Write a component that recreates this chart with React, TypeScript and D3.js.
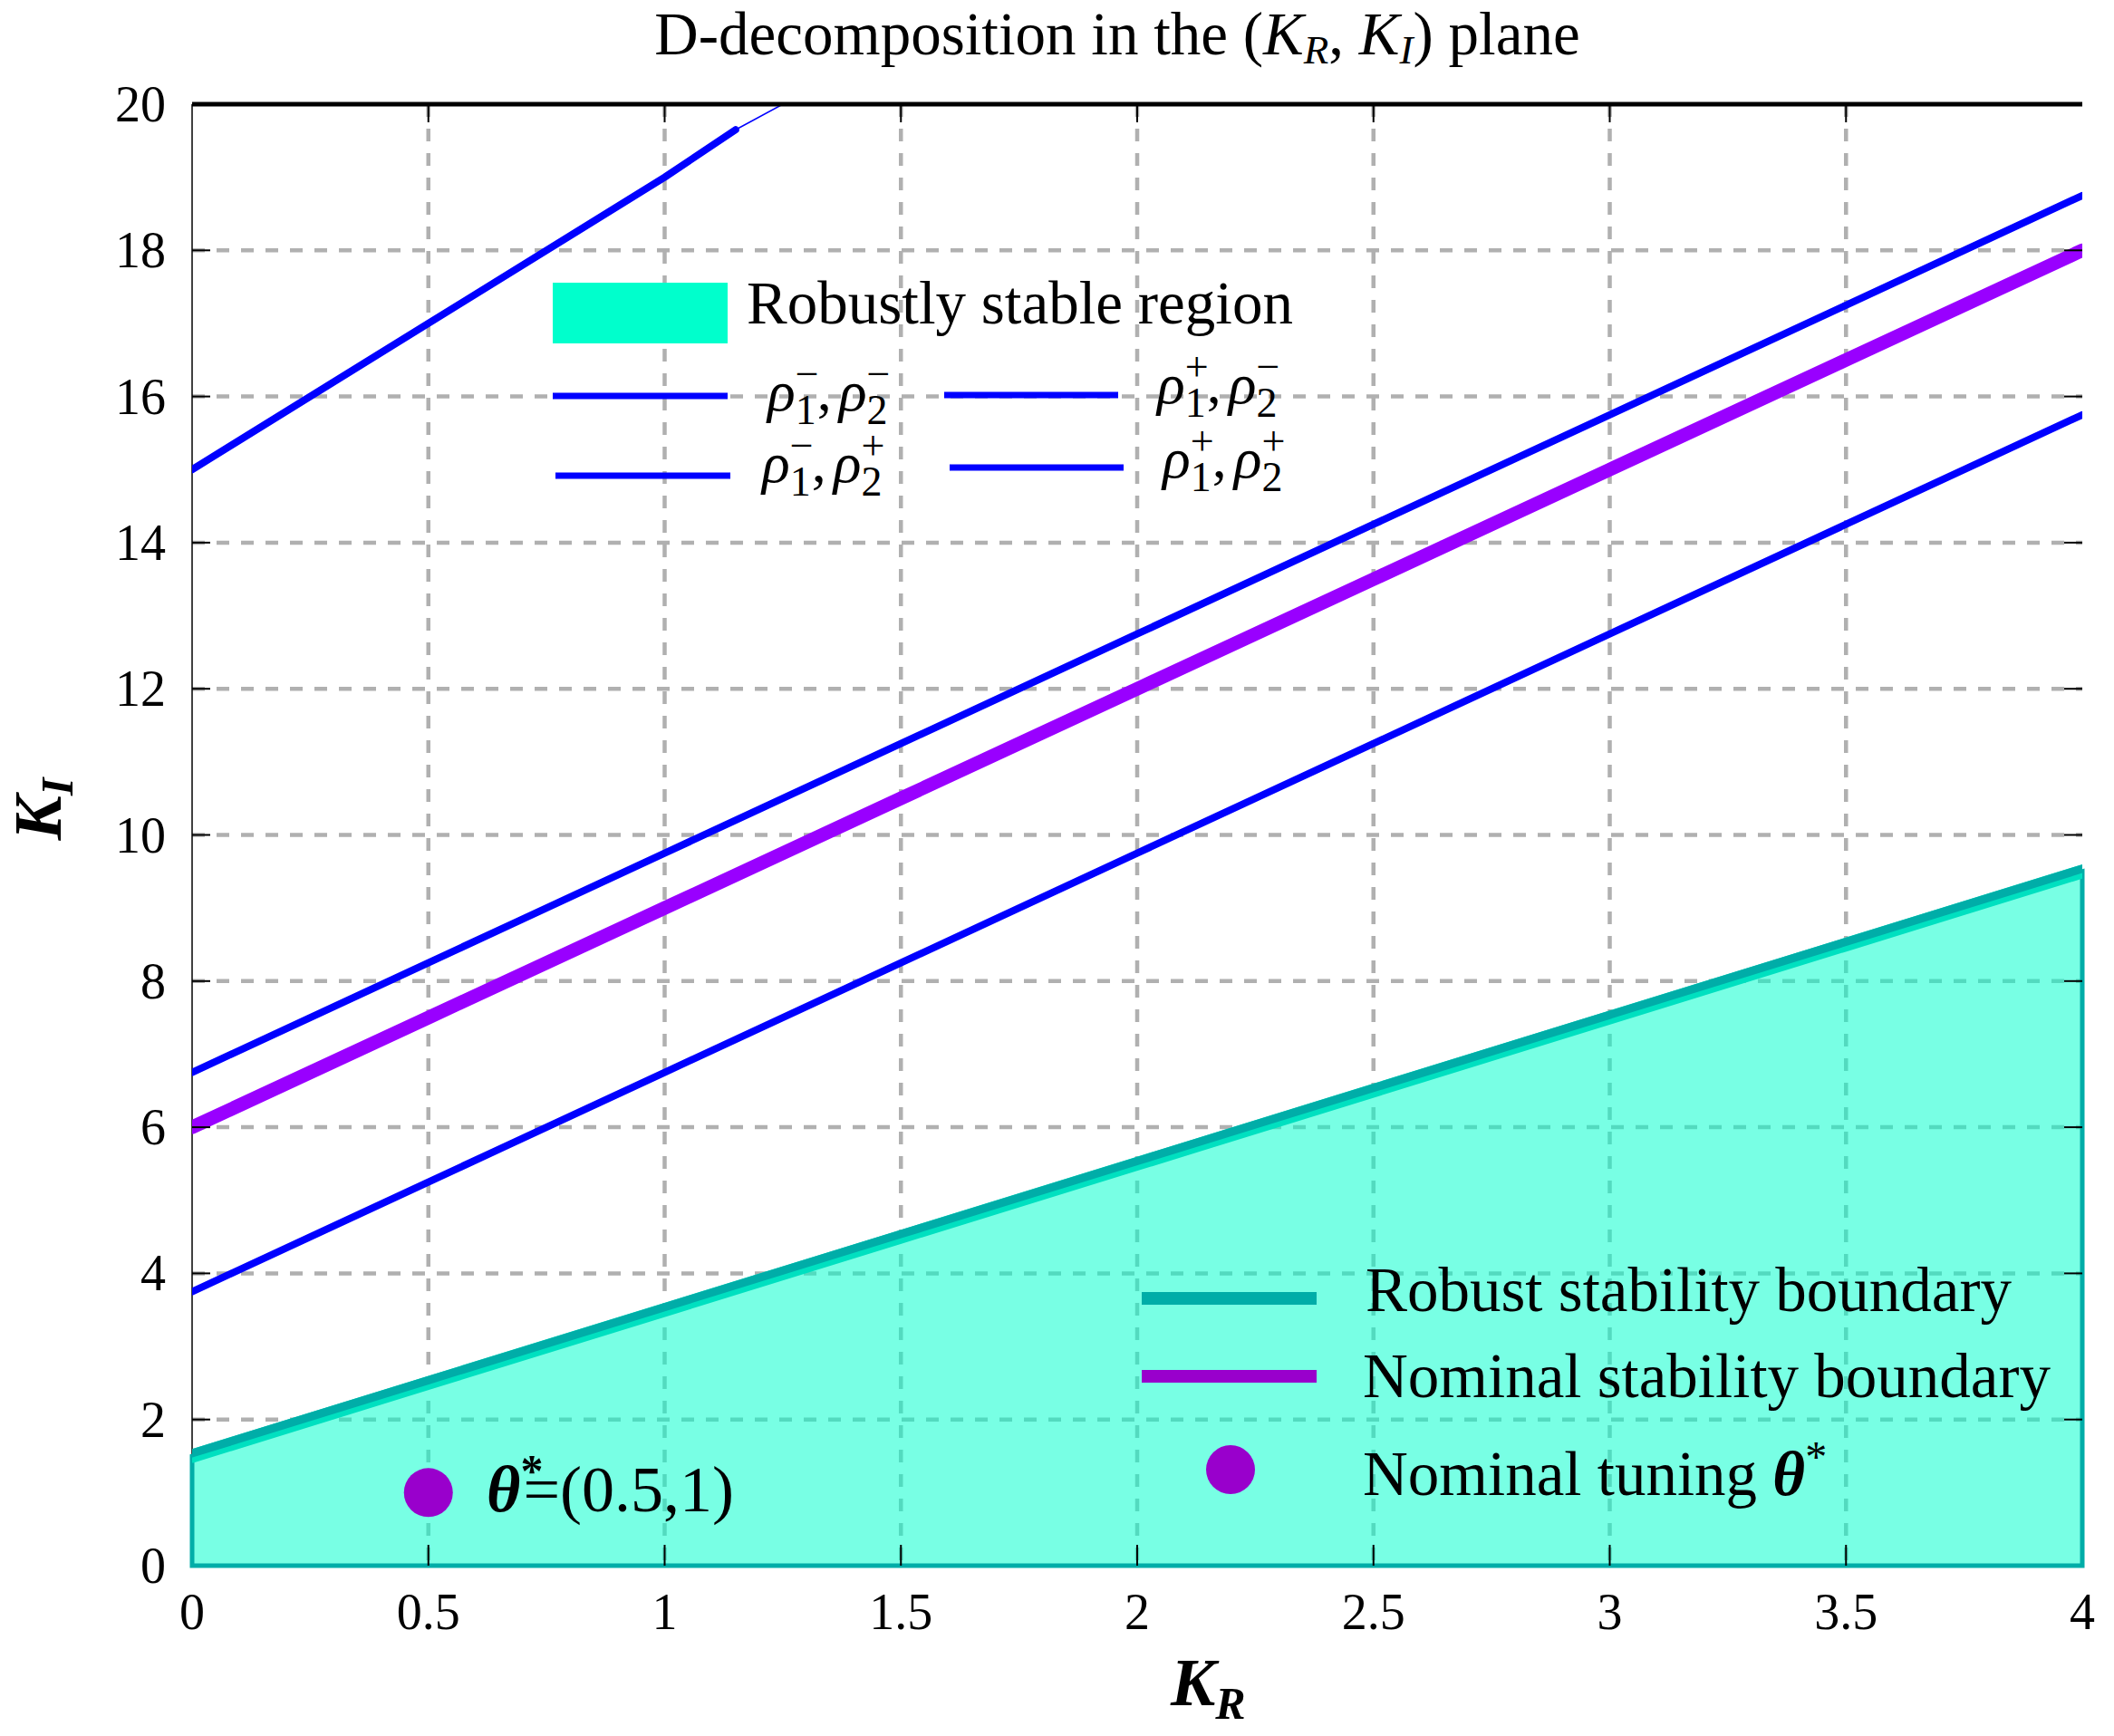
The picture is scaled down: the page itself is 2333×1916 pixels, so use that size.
import * as d3 from "d3"

const krPoints = [0, 0.5, 1, 1.5, 2, 2.5, 3, 3.5, 4]
const robustKI = [1.5, 2.5, 3.5, 4.5, 5.5, 6.5, 7.5, 8.5, 9.5]
const nominalKI = [6, 7.5, 9, 10.5, 12, 13.5, 15, 16.5, 18]
const rhoUpperKI = [6.75, 8.25, 9.75, 11.25, 12.75, 14.25, 15.75, 17.25, 18.75]
const rhoLowerKI = [3.75, 5.25, 6.75, 8.25, 9.75, 11.25, 12.75, 14.25, 15.75]
const rhoTopKR = [0, 0.5, 1, 1.15]
const rhoTopKI = [15, 17, 19, 19.65]
const rhoTailKR = [1.15, 1.25]
const rhoTailKI = [19.65, 20]
const nominalTuning = { kr: 0.5, ki: 1 }

const xTicks = [0, 0.5, 1, 1.5, 2, 2.5, 3, 3.5, 4]
const yTicks = [0, 2, 4, 6, 8, 10, 12, 14, 16, 18, 20]

const W = 2333
const H = 1916
const left = 212
const right = 2298
const top = 115
const bottom = 1728

const FONT = "'Liberation Serif', 'Times New Roman', serif"
const BLUE = "#0000FF"
const PURPLE = "#9900FF"
const PURPLE_DARK = "#9900CC"
const TEAL = "#00ADA8"
const TEAL_LIGHT = "#00E0C0"
const FILL = "#00FFCC"
const GRID = "#B0B0B0"

type Pt = [number, number]
const zip = (xs: number[], ys: number[]): Pt[] => xs.map((x, i) => [x, ys[i]])

function Rho({ x, y, s1, s2 }: { x: number; y: number; s1: string; s2: string }) {
  // ρ_1^{s1}, ρ_2^{s2} en un solo texto
  const small = 46
  return (
    <text x={x} y={y} fontFamily={FONT} fontSize={64} fill="#000">
      <tspan fontStyle="italic">ρ</tspan>
      <tspan fontSize={small} dy={15}>1</tspan>
      <tspan fontSize={small} dx={-23} dy={-40}>{s1}</tspan>
      <tspan dx={-2} dy={25}>,</tspan>
      <tspan fontStyle="italic" dx={8}>ρ</tspan>
      <tspan fontSize={small} dy={15}>2</tspan>
      <tspan fontSize={small} dx={-23} dy={-40}>{s2}</tspan>
    </text>
  )
}

export default function App() {
  const x = d3.scaleLinear().domain([0, 4]).range([left, right])
  const y = d3.scaleLinear().domain([0, 20]).range([bottom, top])

  const line = d3
    .line<Pt>()
    .x((d) => x(d[0]))
    .y((d) => y(d[1]))

  const area = d3
    .area<Pt>()
    .x((d) => x(d[0]))
    .y0(y(0))
    .y1((d) => y(d[1]))

  const robust = zip(krPoints, robustKI)

  return (
    <svg
      width={W}
      height={H}
      viewBox={`0 0 ${W} ${H}`}
      style={{ position: "absolute", left: 0, top: 0, background: "#fff" }}
    >
      <defs>
        <clipPath id="plot">
          <rect x={left} y={top} width={right - left} height={bottom - top} />
        </clipPath>
      </defs>

      {/* rejilla */}
      <g stroke={GRID} strokeWidth={4.5} strokeDasharray="14,13">
        {xTicks.slice(1, -1).map((t) => (
          <line key={"gx" + t} x1={x(t)} x2={x(t)} y1={top} y2={bottom} />
        ))}
        {yTicks.slice(1, -1).map((t) => (
          <line key={"gy" + t} x1={left} x2={right} y1={y(t)} y2={y(t)} />
        ))}
      </g>

      {/* eje izquierdo fino */}
      <line x1={left} x2={left} y1={top} y2={bottom} stroke="#000" strokeWidth={1.5} />

      {/* región robustamente estable */}
      <path d={area(robust) ?? ""} fill={FILL} fillOpacity={0.53} stroke={TEAL} strokeWidth={5} />

      <g clipPath="url(#plot)" fill="none" strokeLinecap="round" strokeLinejoin="round">
        <path d={line(robust) ?? ""} stroke={TEAL_LIGHT} strokeWidth={15} />
        <path d={line(robust) ?? ""} stroke={TEAL} strokeWidth={9} transform="translate(0,-3)" />
        <path d={line(zip(krPoints, rhoLowerKI)) ?? ""} stroke={BLUE} strokeWidth={8} />
        <path d={line(zip(krPoints, rhoUpperKI)) ?? ""} stroke={BLUE} strokeWidth={8} />
        <path d={line(zip(rhoTopKR, rhoTopKI)) ?? ""} stroke={BLUE} strokeWidth={8} />
        <path d={line(zip(rhoTailKR, rhoTailKI)) ?? ""} stroke={BLUE} strokeWidth={1.5} />
        <path d={line(zip(krPoints, nominalKI)) ?? ""} stroke={PURPLE} strokeWidth={15} />
      </g>

      {/* marco superior grueso */}
      <line x1={left} x2={right} y1={top} y2={top} stroke="#000" strokeWidth={5} />

      {/* marcas de los ejes */}
      <g stroke="#000" strokeWidth={2}>
        {yTicks.slice(1, -1).map((t) => (
          <g key={"ty" + t}>
            <line x1={left} x2={left + 20} y1={y(t)} y2={y(t)} />
            <line x1={right - 20} x2={right} y1={y(t)} y2={y(t)} />
          </g>
        ))}
        {xTicks.slice(1, -1).map((t) => (
          <g key={"tx" + t}>
            <line x1={x(t)} x2={x(t)} y1={bottom - 23} y2={bottom} />
            <line x1={x(t)} x2={x(t)} y1={top} y2={top + 20} />
          </g>
        ))}
      </g>

      {/* etiquetas de los ejes */}
      <g fontFamily={FONT} fontSize={56} fill="#000">
        {yTicks.map((t) => (
          <text key={"ly" + t} x={183} y={y(t)} textAnchor="end" dominantBaseline="central">
            {t}
          </text>
        ))}
        {xTicks.map((t) => (
          <text key={"lx" + t} x={x(t)} y={1798} textAnchor="middle">
            {t}
          </text>
        ))}
      </g>

      {/* sintonía nominal */}
      <circle cx={x(nominalTuning.kr)} cy={y(nominalTuning.ki)} r={27} fill={PURPLE_DARK} />
      <text x={537} y={1668} fontFamily={FONT} fontSize={72} fill="#000">
        <tspan fontStyle="italic" fontWeight="bold">θ</tspan>
        <tspan fontSize={50} fontWeight="bold" dy={-28}>*</tspan>
        <tspan dx={-22} dy={28}>=(0.5,1)</tspan>
      </text>

      {/* leyenda superior */}
      <rect x={610} y={312} width={193} height={67} fill={FILL} />
      <text x={824} y={357} fontFamily={FONT} fontSize={67}>
        Robustly stable region
      </text>
      <g stroke={BLUE} strokeWidth={7}>
        <line x1={610} x2={803} y1={437} y2={437} />
        <line x1={1042} x2={1234} y1={436} y2={436} />
        <line x1={613} x2={806} y1={525} y2={525} />
        <line x1={1048} x2={1240} y1={516} y2={516} />
      </g>
      <Rho x={847} y={453} s1="−" s2="−" />
      <Rho x={1277} y={445} s1="+" s2="−" />
      <Rho x={841} y={532} s1="−" s2="+" />
      <Rho x={1283} y={527} s1="+" s2="+" />

      {/* leyenda inferior */}
      <line x1={1260} x2={1453} y1={1433} y2={1433} stroke={TEAL} strokeWidth={14} />
      <line x1={1260} x2={1453} y1={1519} y2={1519} stroke={PURPLE_DARK} strokeWidth={14} />
      <circle cx={1358} cy={1622} r={27} fill={PURPLE_DARK} />
      <g fontFamily={FONT} fontSize={69} fill="#000">
        <text x={1507} y={1447}>Robust stability boundary</text>
        <text x={1504} y={1542}>Nominal stability boundary</text>
        <text x={1504} y={1650}>
          Nominal tuning <tspan fontStyle="italic" fontWeight="bold">θ</tspan>
          <tspan dy={-26} fontSize={48}>*</tspan>
        </text>
      </g>

      {/* título */}
      <text x={1233} y={60} fontFamily={FONT} fontSize={67} textAnchor="middle">
        D-decomposition in the (<tspan fontStyle="italic">K</tspan>
        <tspan fontSize={45} dy={10} fontStyle="italic">R</tspan>
        <tspan dy={-10}>, </tspan>
        <tspan fontStyle="italic">K</tspan>
        <tspan fontSize={45} dy={10} fontStyle="italic">I</tspan>
        <tspan dy={-10}>) plane</tspan>
      </text>

      {/* títulos de los ejes */}
      <text x={1292} y={1882} fontFamily={FONT} fontSize={74} fontStyle="italic" fontWeight="bold">
        K<tspan fontSize={50} dy={15}>R</tspan>
      </text>
      <text
        transform="translate(67,893) rotate(-90)"
        fontFamily={FONT}
        fontSize={74}
        fontStyle="italic"
        fontWeight="bold"
        textAnchor="middle"
      >
        K<tspan fontSize={50} dy={13}>I</tspan>
      </text>
    </svg>
  )
}
